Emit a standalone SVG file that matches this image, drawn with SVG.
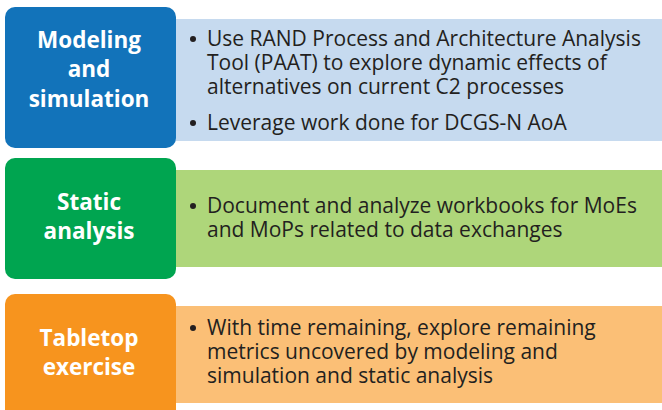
<svg xmlns="http://www.w3.org/2000/svg" width="662" height="410" viewBox="0 0 662 410">
<style>
.title{font-family:"Open Sans","Noto Sans",sans-serif;font-weight:bold;font-size:22.5px;fill:#ffffff;text-anchor:middle}
.body{font-family:"Open Sans","Noto Sans",sans-serif;font-size:21px;fill:#231f20}
.dot{fill:#231f20}
</style>
<rect width="662" height="410" fill="#ffffff"/>
<g id="row-modeling">
<rect x="175" y="19" width="487" height="122" fill="#c6daef"/>
<rect x="5" y="7" width="171" height="141" rx="10" fill="#1273ba"/>
<text class="title" x="89" y="48">Modeling</text>
<text class="title" x="89" y="77">and</text>
<text class="title" x="89" y="107">simulation</text>
<circle class="dot" cx="193" cy="39" r="3"/>
<text class="body" x="207" y="46">Use RAND Process and Architecture Analysis</text>
<text class="body" x="207" y="70">Tool (PAAT) to explore dynamic effects of</text>
<text class="body" x="207" y="94">alternatives on current C2 processes</text>
<circle class="dot" cx="193" cy="123" r="3"/>
<text class="body" x="207" y="130">Leverage work done for DCGS-N AoA</text>
</g>
<g id="row-static">
<rect x="175" y="170" width="487" height="97" fill="#aed67a"/>
<rect x="5" y="158" width="171" height="121" rx="10" fill="#00a550"/>
<text class="title" x="89" y="210">Static</text>
<text class="title" x="89" y="239">analysis</text>
<circle class="dot" cx="193" cy="206" r="3"/>
<text class="body" x="207" y="213">Document and analyze workbooks for MoEs</text>
<text class="body" x="207" y="237">and MoPs related to data exchanges</text>
</g>
<g id="row-tabletop">
<rect x="175" y="306" width="487" height="97" fill="#fbbf76"/>
<rect x="5" y="294" width="171" height="126" rx="10" fill="#f7941e"/>
<text class="title" x="89" y="346">Tabletop</text>
<text class="title" x="89" y="375">exercise</text>
<circle class="dot" cx="193" cy="328" r="3"/>
<text class="body" x="207" y="335">With time remaining, explore remaining</text>
<text class="body" x="207" y="359">metrics uncovered by modeling and</text>
<text class="body" x="207" y="383">simulation and static analysis</text>
</g>
<g id="connectors"/>
</svg>
